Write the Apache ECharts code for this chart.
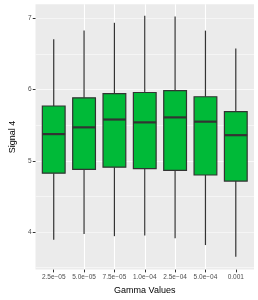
<!DOCTYPE html>
<html><head><meta charset="utf-8">
<script src="https://cdn.jsdelivr.net/npm/echarts@6/dist/echarts.min.js"></script>
<style>html,body{margin:0;padding:0;background:#fff}#c{width:258px;height:300px}</style>
</head><body><div id="c"></div>
<script>
const categories = ['2.5e\u221205','5.0e\u221205','7.5e\u221205','1.0e\u221204','2.5e\u221204','5.0e\u221204','0.001'];
const whiskerLow  = [3.89, 3.97, 3.94, 3.95, 3.91, 3.815, 3.65];
const q1          = [4.825, 4.88, 4.91, 4.89, 4.865, 4.80, 4.715];
const median      = [5.375, 5.47, 5.58, 5.54, 5.61, 5.55, 5.36];
const q3          = [5.77, 5.885, 5.945, 5.96, 5.985, 5.90, 5.69];
const whiskerHigh = [6.71, 6.83, 6.94, 7.04, 7.03, 6.83, 6.58];
const yTicks = [4, 5, 6, 7];

const xPos = categories.map((c, i) => i + 1);
const boxData = categories.map((c, i) => [i + 1, whiskerLow[i], q1[i], median[i], q3[i], whiskerHigh[i]]);
const FONT = 'Liberation Sans, Arial, sans-serif';

const chart = echarts.init(document.getElementById('c'), null, {renderer: 'canvas'});
chart.setOption({
  animation: false,
  grid: {left: 24, right: 4, top: 4.3, bottom: 28, show: true, backgroundColor: '#EBEBEB', borderWidth: 0},
  xAxis: {
    type: 'value', min: 0.4, max: 7.6, splitNumber: 7, minInterval: 1, maxInterval: 1,
    axisLine: {show: false},
    axisTick: {show: true, customValues: xPos, length: 2.75, lineStyle: {color: '#333333', width: 1}},
    axisLabel: {customValues: xPos, formatter: v => categories[Math.round(v) - 1] || '', fontSize: 6.5, color: '#4D4D4D', margin: 4.5, fontFamily: FONT},
    splitLine: {show: true, showMinLine: false, showMaxLine: false, lineStyle: {color: '#FFFFFF', width: 1.1}},
    name: 'Gamma Values', nameLocation: 'middle', nameGap: 14,
    nameTextStyle: {fontSize: 9, color: '#000000', fontFamily: FONT}
  },
  yAxis: [{
    type: 'value', min: 3.47, max: 7.2, splitNumber: 4, minInterval: 1, maxInterval: 1, position: 'left',
    axisLine: {show: false},
    axisTick: {show: true, customValues: yTicks, length: 2.75, lineStyle: {color: '#333333', width: 1}},
    axisLabel: {customValues: yTicks, fontSize: 6.5, color: '#4D4D4D', margin: 4, fontFamily: FONT},
    splitLine: {show: true, showMinLine: false, showMaxLine: false, lineStyle: {color: '#FFFFFF', width: 1.1}},
    name: 'Signal 4', nameLocation: 'middle', nameGap: 12, nameRotate: 90,
    nameTextStyle: {fontSize: 9, color: '#000000', fontFamily: FONT}
  }, {
    type: 'value', min: 3.47, max: 7.2, splitNumber: 8, minInterval: 0.5, maxInterval: 0.5, position: 'left',
    axisLine: {show: false}, axisTick: {show: false}, axisLabel: {show: false},
    splitLine: {show: true, showMinLine: false, showMaxLine: false, lineStyle: {color: '#F8F8F8', width: 0.8}}
  }],
  series: [{
    type: 'custom',
    data: boxData,
    encode: {x: 0, y: [1, 2, 3, 4, 5]},
    renderItem: function (params, api) {
      const x = api.value(0);
      const pLo = api.coord([x, api.value(1)]);
      const pQ1 = api.coord([x, api.value(2)]);
      const pMed = api.coord([x, api.value(3)]);
      const pQ3 = api.coord([x, api.value(4)]);
      const pHi = api.coord([x, api.value(5)]);
      const hw = api.size([0.75, 0])[0] / 2;
      const lineStyle = {stroke: '#333333', lineWidth: 1.2};
      return {
        type: 'group',
        children: [
          {type: 'line', shape: {x1: pLo[0], y1: pLo[1], x2: pQ1[0], y2: pQ1[1]}, style: lineStyle},
          {type: 'line', shape: {x1: pQ3[0], y1: pQ3[1], x2: pHi[0], y2: pHi[1]}, style: lineStyle},
          {type: 'rect', shape: {x: pQ3[0] - hw, y: pQ3[1], width: hw * 2, height: pQ1[1] - pQ3[1]},
           style: {fill: '#00BA38', stroke: '#333333', lineWidth: 1.2}},
          {type: 'line', shape: {x1: pMed[0] - hw, y1: pMed[1], x2: pMed[0] + hw, y2: pMed[1]},
           style: {stroke: '#333333', lineWidth: 2.2}}
        ]
      };
    }
  }]
});
</script>
</body></html>
